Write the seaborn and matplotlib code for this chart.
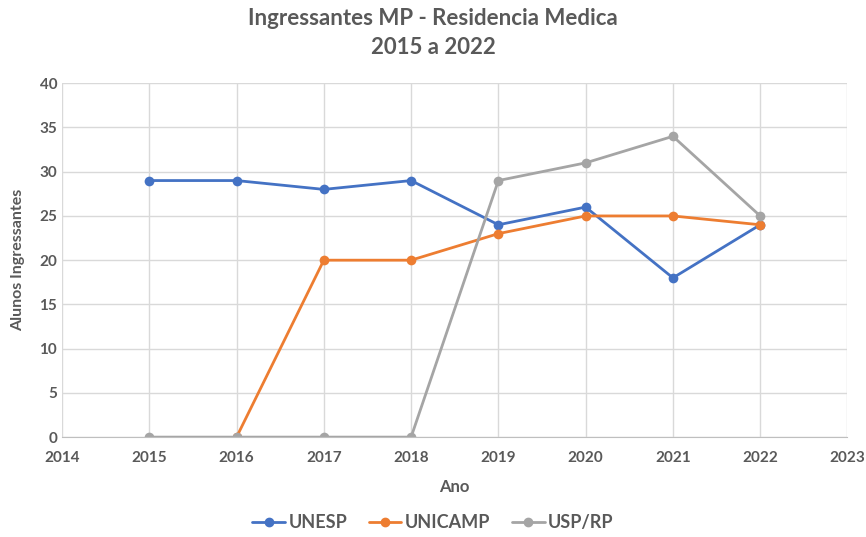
import numpy as np
import pandas as pd
import matplotlib.pyplot as plt
import seaborn as sns

# Data
anos = [2015, 2016, 2017, 2018, 2019, 2020, 2021, 2022]
unesp = [29, 29, 28, 29, 24, 26, 18, 24]
unicamp = [np.nan, 0, 20, 20, 23, 25, 25, 24]
usp_rp = [0, 0, 0, 0, 29, 31, 34, 25]
series_names = ['UNESP', 'UNICAMP', 'USP/RP']
colors = ['#4472C4', '#ED7D31', '#A5A5A5']

df = pd.DataFrame({'Ano': anos, 'UNESP': unesp, 'UNICAMP': unicamp, 'USP/RP': usp_rp})
df_long = df.melt(id_vars='Ano', var_name='Instituicao', value_name='Alunos').dropna()

sns.set_style('white')
plt.rcParams['font.family'] = ['Lato', 'DejaVu Sans']

fig = plt.figure(figsize=(8.66, 5.37), dpi=100)
ax = fig.add_axes([0.0716, 0.186, 0.907, 0.659])

sns.lineplot(data=df_long, x='Ano', y='Alunos', hue='Instituicao',
             hue_order=series_names, palette=colors, marker='o',
             markersize=7, markeredgewidth=0, linewidth=2, ax=ax,
             legend=False)

# Axes styling, Excel-like
ax.set_xlim(2014, 2023)
ax.set_ylim(0, 40)
ax.set_xticks(range(2014, 2024))
ax.set_yticks(range(0, 41, 5))
ax.grid(True, color='#D9D9D9', linewidth=1)
ax.set_axisbelow(True)
for side in ['top', 'right', 'left']:
    ax.spines[side].set_visible(False)
ax.spines['bottom'].set_color('#BFBFBF')
ax.tick_params(axis='both', length=0, labelsize=11, labelcolor='#595959')
ax.tick_params(axis='x', pad=10)
for lbl in ax.get_xticklabels() + ax.get_yticklabels():
    lbl.set_fontweight('bold')

ax.set_xlabel('Ano', fontsize=12, fontweight='bold', color='#595959', labelpad=10)
ax.set_ylabel('Alunos Ingressantes', fontsize=11.5, fontweight='bold', color='#595959', labelpad=10)

fig.suptitle('Ingressantes MP - Residencia Medica\n2015 a 2022', y=0.985,
             fontsize=16, fontweight='bold', color='#595959', linespacing=1.45)

handles = [plt.Line2D([], [], color=c, marker='o', markersize=6, linewidth=2)
           for c in colors]
fig.legend(handles, series_names, loc='lower center', ncol=3, frameon=False,
           bbox_to_anchor=(0.5, -0.02), prop={'size': 13, 'weight': 'bold'},
           labelcolor='#595959', handlelength=1.8, columnspacing=1.2, handletextpad=0.2)

plt.savefig('out.png', dpi=100)
